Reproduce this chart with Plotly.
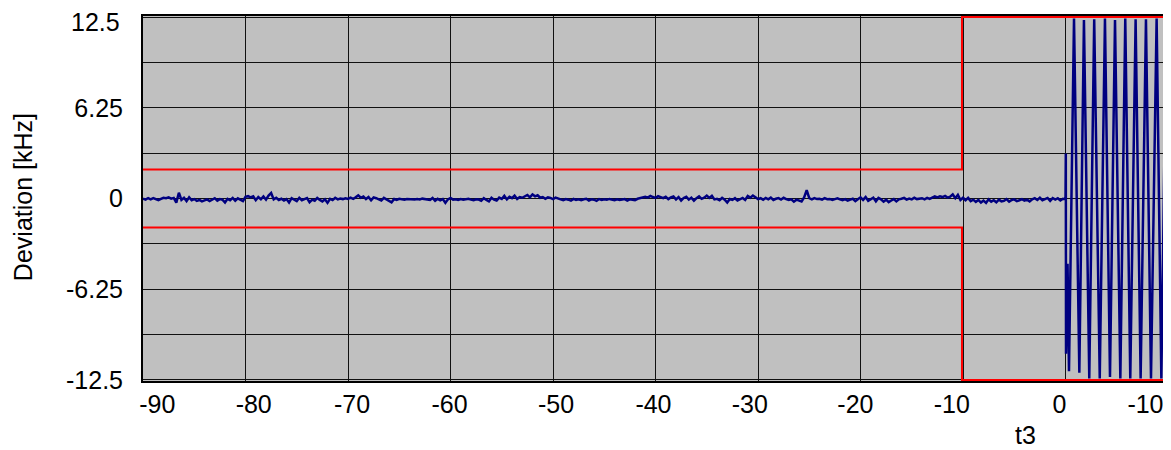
import plotly.graph_objects as go

# ---------------- data ----------------
# Noise segment (kHz), sampled every 0.25 from t = -90 to 0
noise_t0 = -90.0
noise_dt = 0.25
noise_y = [
    -0.02, -0.08, 0.03, -0.06,
    0.02, -0.04, -0.12, -0.03,
    0.05, 0.02, 0.08, -0.01,
    0.04, -0.28, 0.40, -0.10,
    0.05, -0.18, 0.08, -0.12,
    -0.04, -0.16, -0.10, -0.20,
    -0.12, -0.06, -0.18, -0.09,
    0.02, -0.15, -0.04, -0.08,
    -0.28, -0.02, -0.12, 0.04,
    -0.15, 0.01, -0.07, -0.18,
    0.12, 0.16, 0.08, 0.15,
    -0.12, 0.10, -0.05, 0.14,
    -0.08, 0.20, 0.38, -0.06,
    0.05, -0.10, -0.02, -0.14,
    -0.04, -0.28, 0.02, -0.10,
    -0.18, 0.05, -0.12, -0.04,
    0.03, -0.26, -0.08, -0.15,
    0.04, -0.10, -0.20, -0.05,
    -0.30, -0.02, -0.11, 0.05,
    -0.06, 0.00, -0.04, 0.02,
    -0.03, 0.06, -0.02, 0.08,
    0.22, 0.05, 0.14, -0.04,
    0.10, -0.12, 0.08, 0.02,
    -0.06, -0.14, 0.04, -0.08,
    -0.16, -0.26, -0.04, -0.10,
    -0.02, -0.06, -0.08, -0.03,
    -0.05, -0.02, -0.07, -0.04,
    -0.06, -0.01, -0.05, -0.08,
    -0.10, 0.04, -0.16, -0.02,
    -0.12, -0.04, -0.30, -0.06,
    0.03, -0.08, -0.05, -0.10,
    -0.04, -0.09, -0.06, -0.02,
    -0.08, -0.12, -0.05, -0.07,
    -0.16, 0.02, -0.10, -0.20,
    0.05, -0.08, -0.14, 0.06,
    -0.03, 0.18, -0.06, 0.12,
    0.02, 0.20, -0.04, 0.10,
    0.05, 0.16, 0.24, 0.08,
    0.28, 0.15, 0.22, 0.05,
    0.10, -0.02, 0.08, 0.04,
    -0.04, 0.06, 0.02, -0.06,
    -0.12, -0.04, -0.08, -0.15,
    -0.03, -0.10, -0.06, -0.12,
    -0.05, -0.02, -0.14, -0.06,
    -0.08, -0.16, -0.04, -0.10,
    -0.06, -0.09, -0.03, -0.08,
    -0.12, -0.05, -0.10, -0.07,
    -0.04, -0.14, -0.06, -0.09,
    -0.11, -0.02, 0.02, 0.08,
    0.12, 0.06, 0.18, 0.10,
    0.04, 0.16, 0.09, 0.02,
    0.12, -0.04, 0.08, 0.14,
    -0.06, 0.10, -0.14, 0.04,
    0.12, -0.08, 0.06, -0.15,
    0.02, 0.15, -0.02, 0.06,
    0.20, 0.04, 0.18, -0.06,
    -0.02, -0.12, 0.05, -0.08,
    -0.28, -0.04, -0.10, 0.02,
    -0.14, -0.06, 0.04, -0.10,
    0.18, 0.06, 0.20, 0.08,
    -0.04, 0.02, -0.08, 0.04,
    -0.06, 0.06, -0.10, -0.02,
    0.03, -0.07, 0.05, -0.04,
    -0.10, -0.06, -0.22, -0.08,
    -0.14, -0.20, 0.08, 0.58,
    0.02, -0.06, 0.03, -0.04,
    -0.02, -0.08, 0.02, -0.05,
    -0.03, -0.10, -0.04, 0.01,
    -0.06, -0.12, -0.04, -0.15,
    -0.08, -0.02, -0.18, -0.06,
    0.08, -0.10, 0.10, -0.16,
    -0.02, 0.06, -0.20, 0.04,
    -0.06, -0.22, -0.08, -0.25,
    -0.14, -0.04, -0.20, -0.06,
    -0.02, 0.04, -0.08, 0.00,
    -0.06, 0.05, -0.04, -0.02,
    0.02, -0.06, 0.04, -0.03,
    0.06, 0.14, 0.08, 0.15,
    0.10, 0.18, 0.06, 0.12,
    0.28, 0.02, 0.25, -0.10,
    0.05, -0.12, 0.04, -0.18,
    -0.08, -0.24, -0.10, -0.28,
    -0.14, -0.30, -0.06, -0.22,
    -0.12, -0.26, -0.08, -0.20,
    -0.16, -0.04, -0.22, -0.10,
    -0.06, -0.18, -0.12, -0.04,
    -0.14, -0.08, -0.20, -0.05,
    0.02, -0.10, 0.05, -0.12,
    -0.04, 0.04, -0.16, 0.03,
    -0.08, 0.02, -0.14, -0.02,
    -0.05,
]
noise_t = [noise_t0 + noise_dt * i for i in range(len(noise_y))]

# Oscillation after the switch (t > 0)
osc_t = [0.03, 0.05, 0.20, 0.34, 0.83, 1.35, 1.80, 2.32, 2.80, 3.34, 3.85, 4.34,
         4.83, 5.35, 5.83, 6.32, 6.84, 7.33, 7.85, 8.34, 8.89, 9.35, 9.83, 10.35]
osc_y = [3.1, -10.7, -4.5, -11.9, 12.4, -12.0, 12.3, -12.4, 12.35, -12.4, 12.4, -12.3,
         12.3, -12.4, 12.4, -12.4, 12.35, -12.4, 12.35, -12.4, 12.4, -12.4, 12.35, -12.4]

# Limit mask
mask_t = [-90, -10.1, -10.1, 10]
mask_upper = [2.0, 2.0, 12.5, 12.5]
mask_lower = [-2.0, -2.0, -12.5, -12.5]

# Axis labels
x_tick_pos = [-88.6, -79.2, -69.6, -60.1, -49.7, -40.2, -30.8, -20.5, -11.1, -0.6, 7.8]
x_tick_text = ["-90", "-80", "-70", "-60", "-50", "-40", "-30", "-20", "-10", "0", "-10"]
y_tick_vals = [-12.5, -6.25, 0, 6.25]
y_tick_text = ["-12.5", "-6.25", "0", "6.25"]
y_top_val = 12.5
y_top_text = "12.5"

FONT = "Liberation Sans, Arial, sans-serif"
FS = 25
NAVY = "#000080"
RED = "#FF0000"

fig = go.Figure()
fig.add_trace(go.Scatter(x=noise_t + osc_t, y=noise_y + osc_y, mode="lines",
                         line=dict(color=NAVY, width=2.5), hoverinfo="skip"))
fig.add_trace(go.Scatter(x=mask_t, y=mask_upper, mode="lines",
                         line=dict(color=RED, width=2), hoverinfo="skip"))
fig.add_trace(go.Scatter(x=mask_t, y=mask_lower, mode="lines",
                         line=dict(color=RED, width=2), hoverinfo="skip"))

fig.update_layout(
    width=1171, height=450,
    margin=dict(l=135, r=11, t=8, b=77, autoexpand=False),
    paper_bgcolor="white",
    plot_bgcolor="#C0C0C0",
    showlegend=False,
    font=dict(family=FONT, size=FS, color="black"),
    xaxis=dict(
        range=[-90, 10],
        tickmode="array", tickvals=x_tick_pos, ticktext=x_tick_text,
        showgrid=False, ticks="", zeroline=False,
        showline=True, linecolor="black", linewidth=2, mirror=True,
        layer="below traces", automargin=False,
        ticklabelstandoff=0,
        ticklabeloverflow="allow",
        minor=dict(tickmode="linear", tick0=0, dtick=10, showgrid=True,
                   gridcolor="#111111", gridwidth=1, ticks=""),
    ),
    yaxis=dict(
        range=[-12.57, 12.57],
        tickmode="array", tickvals=y_tick_vals, ticktext=y_tick_text,
        showgrid=True, gridcolor="#111111", gridwidth=1,
        ticks="", zeroline=False,
        showline=True, linecolor="black", linewidth=2, mirror=True,
        layer="below traces", automargin=False,
        ticklabelstandoff=13,
        ticklabeloverflow="allow",
        minor=dict(tickmode="linear", tick0=0, dtick=3.125, showgrid=True,
                   gridcolor="#111111", gridwidth=1, ticks=""),
    ),
    annotations=[
        dict(text=y_top_text, xref="paper", yref="y", x=-0.0205, y=y_top_val,
             yshift=-5, showarrow=False, xanchor="right", yanchor="middle",
             font=dict(family=FONT, size=FS)),
        dict(text="t3", xref="x", yref="paper", x=-3.95, y=-0.148,
             showarrow=False, xanchor="center", yanchor="middle",
             font=dict(family=FONT, size=FS)),
        dict(text="Deviation [kHz]", xref="paper", yref="paper", x=-0.1176, y=0.505,
             showarrow=False, textangle=-90, xanchor="center", yanchor="middle",
             font=dict(family=FONT, size=FS)),
    ],
)

fig.write_html("out.html")
